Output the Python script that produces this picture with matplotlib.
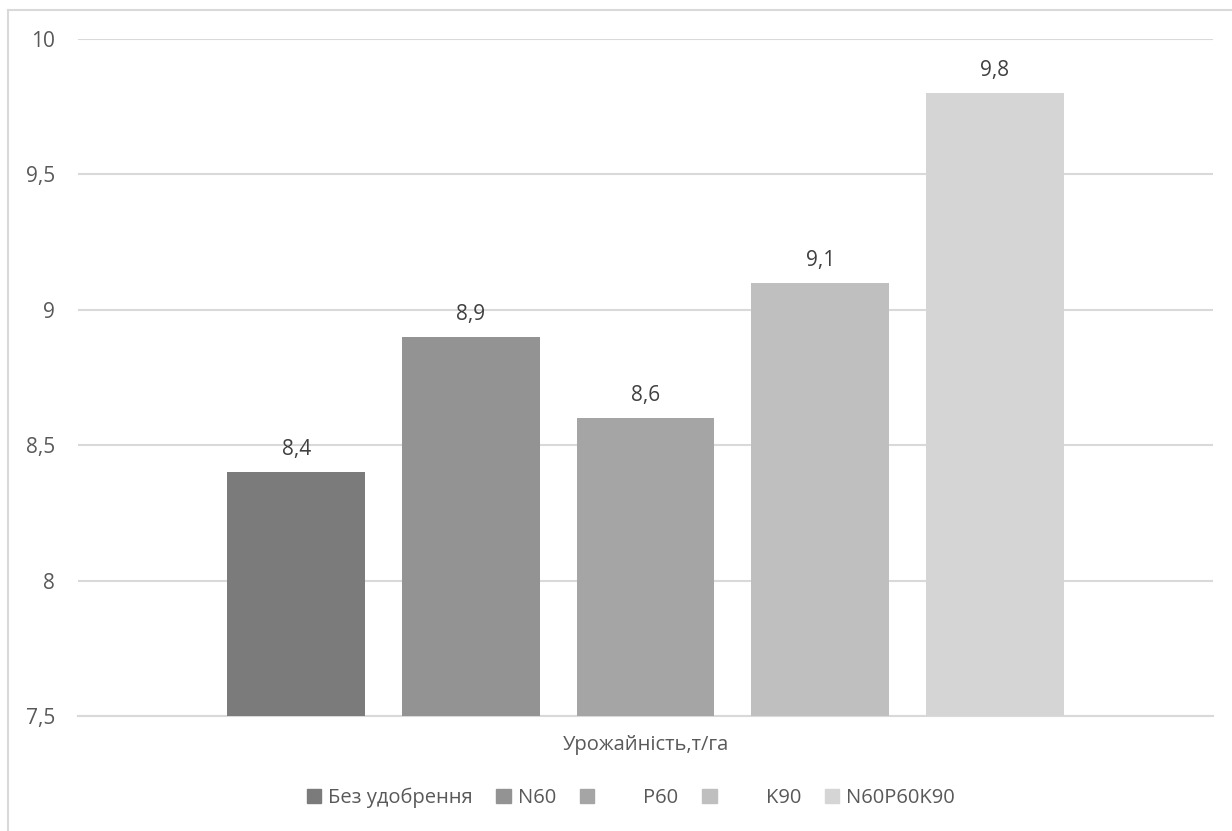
import matplotlib
matplotlib.use("Agg")
import matplotlib.pyplot as plt
from matplotlib.patches import Rectangle
from matplotlib.lines import Line2D

# урожайність за варіантами удобрення
variants = ["Без удобрення", "N60", "P60", "K90", "N60P60K90"]
yields = [8.4, 8.9, 8.6, 9.1, 9.8]
bar_colors = ["#7b7b7b", "#939393", "#a5a5a5", "#bfbfbf", "#d5d5d5"]
legend_labels = ["Без удобрення", "N60", "        P60", "        K90", "N60P60K90"]
category = "Урожайність,т/га"
y_ticks = [7.5, 8, 8.5, 9, 9.5, 10]

num_font = ["Open Sans", "DejaVu Sans"]
txt_font = ["Open Sans", "DejaVu Sans"]

fig = plt.figure(figsize=(12.32, 8.31), dpi=100)
ax = fig.add_axes([0.0633, 0.1384, 0.9213, 0.8147])

x = list(range(len(yields)))
rects = ax.bar(x, [v - 7.5 for v in yields], bottom=7.5, width=0.79,
               color=bar_colors, zorder=3)

for r, v in zip(rects, yields):
    ax.annotate(("%.1f" % v).replace(".", ","),
                (r.get_x() + r.get_width() / 2, v),
                xytext=(0, 12.2), textcoords="offset points",
                ha="center", va="baseline", fontsize=15, color="#404040",
                family=num_font)

ax.set_xlim(-1.25, 5.25)
ax.set_ylim(7.5, 10)
ax.set_yticks(y_ticks)
ax.set_yticklabels([("%g" % t).replace(".", ",") for t in y_ticks],
                   family=num_font, fontsize=15, color="#595959")
ax.set_xticks([2])
ax.set_xticklabels([category], family=txt_font, fontsize=14.5, color="#595959")
ax.tick_params(axis="both", length=0)
ax.tick_params(axis="y", pad=16.5)
ax.tick_params(axis="x", pad=14)

ax.grid(axis="y", color="#d9d9d9", linewidth=1.5, zorder=0)
for s in ["top", "right", "left"]:
    ax.spines[s].set_visible(False)
ax.spines["bottom"].set_color("#d9d9d9")
ax.spines["bottom"].set_linewidth(1.5)

handles = [Rectangle((0, 0), 1, 1, color=c) for c in bar_colors]
leg = fig.legend(handles, legend_labels, loc="center", bbox_to_anchor=(0.512, 0.0395),
                 ncol=5, frameon=False, handlelength=0.7, handleheight=0.7,
                 handletextpad=0.35, columnspacing=1.2,
                 prop={"family": txt_font, "size": 14.5})
for t in leg.get_texts():
    t.set_color("#595959")

# рамка області діаграми
fig.add_artist(Line2D([7.5 / 1232, 7.5 / 1232], [0, 1 - 10 / 831],
                      transform=fig.transFigure, color="#d9d9d9", linewidth=1.5))
fig.add_artist(Line2D([7.5 / 1232, 1], [1 - 10 / 831, 1 - 10 / 831],
                      transform=fig.transFigure, color="#d9d9d9", linewidth=1.5))

fig.savefig("out.png", dpi=100)
